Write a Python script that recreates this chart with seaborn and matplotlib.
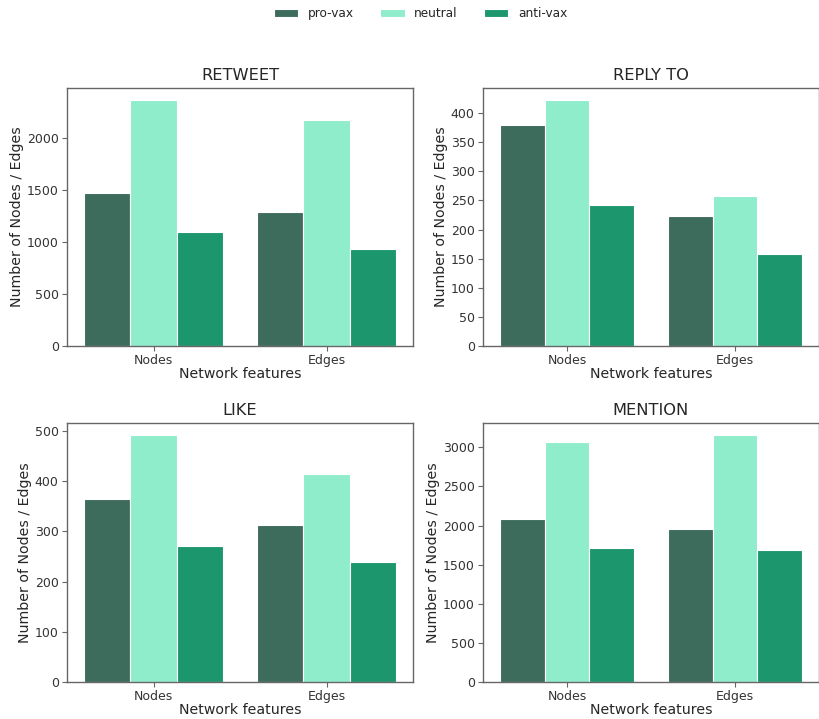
import matplotlib
matplotlib.use("Agg")
import matplotlib.pyplot as plt
import seaborn as sns
import pandas as pd

features = ["Nodes", "Edges"]
groups = ["pro-vax", "neutral", "anti-vax"]
panels = ["RETWEET", "REPLY TO", "LIKE", "MENTION"]

retweet_pro = [1477, 1294]
retweet_neu = [2366, 2176]
retweet_anti = [1101, 938]

reply_pro = [379, 223]
reply_neu = [422, 257]
reply_anti = [242, 158]

like_pro = [365, 313]
like_neu = [491, 414]
like_anti = [271, 238]

mention_pro = [2083, 1960]
mention_neu = [3064, 3154]
mention_anti = [1711, 1694]

panel_values = {
    "RETWEET": (retweet_pro, retweet_neu, retweet_anti),
    "REPLY TO": (reply_pro, reply_neu, reply_anti),
    "LIKE": (like_pro, like_neu, like_anti),
    "MENTION": (mention_pro, mention_neu, mention_anti),
}

colors = ["#3D6B5C", "#8FEDCC", "#1C966C"]

sns.set_theme(style="ticks")
plt.rcParams.update({
    "font.family": ["DejaVu Sans"],
    "axes.edgecolor": "0.4",
    "xtick.color": "0.4",
    "ytick.color": "0.4",
    "xtick.labelcolor": "0.2",
    "ytick.labelcolor": "0.2",
    "text.color": "0.15",
    "axes.labelcolor": "0.15",
})

fig, axes = plt.subplots(2, 2, figsize=(8.2, 7.19), dpi=100)

positions = [
    (67, 88, 413, 346),
    (483, 88, 819, 346),
    (67, 423, 413, 682),
    (483, 423, 819, 682),
]
W, H = 820, 719

for ax, name, pos in zip(axes.flat, panels, positions):
    vals = panel_values[name]
    rows = []
    for g, v in zip(groups, vals):
        for f, y in zip(features, v):
            rows.append({"feature": f, "group": g, "value": y})
    df = pd.DataFrame(rows)
    sns.barplot(data=df, x="feature", y="value", hue="group",
                hue_order=groups, order=features, palette=colors,
                saturation=1, edgecolor="white", linewidth=0.8, ax=ax)
    ax.set_title(name, fontsize=11.7)
    ax.set_xlabel("Network features", fontsize=10.2, labelpad=0)
    ax.set_ylabel("Number of Nodes / Edges", fontsize=10.2, labelpad=2)
    ax.tick_params(axis="both", labelsize=9, length=3.5, width=0.8, pad=2.5)
    for s in ax.spines.values():
        s.set_linewidth(1.0)
    ax.get_legend().remove()
    x0, y0, x1, y1 = pos
    ax.set_position([x0 / W, 1 - y1 / H, (x1 - x0) / W, (y1 - y0) / H])

handles, labels = axes.flat[0].get_legend_handles_labels()
fig.legend(handles, labels, loc="upper center", ncol=3, frameon=False,
           bbox_to_anchor=(0.513, 1.005), fontsize=8.7,
           handlelength=2.0, columnspacing=2.2)

fig.savefig("out.png", dpi=100)
